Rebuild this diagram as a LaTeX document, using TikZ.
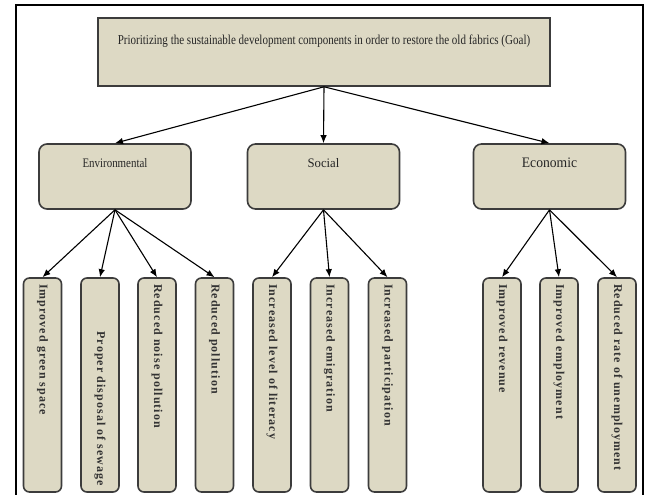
\documentclass[tikz,border=0pt]{standalone}
\usepackage{fontspec}
\setmainfont{Liberation Serif}
\newfontfamily\goalfont[FakeStretch=0.81]{Liberation Serif}
\newfontfamily\envfont[FakeStretch=0.84]{Liberation Serif}
\newfontfamily\socfont[FakeStretch=0.98]{Liberation Serif}
\newfontfamily\ecofont[FakeStretch=0.94]{Liberation Serif}
\newfontfamily\leaffont[LetterSpace=9,WordSpace=2.1]{Liberation Serif}
\usetikzlibrary{arrows.meta}
\definecolor{boxfill}{HTML}{DDD9C4}
\definecolor{boxline}{HTML}{3C3C3C}
\definecolor{leaftext}{HTML}{333333}
\definecolor{maintext}{HTML}{262626}
\begin{document}
\begin{tikzpicture}[x=1pt,y=-1pt,
  box/.style={draw=boxline, fill=boxfill, line width=1.6pt},
  goalbox/.style={box, minimum width=452pt, minimum height=68pt, text depth=24pt, text height=9pt, inner sep=0pt, text=maintext, font=\goalfont\fontsize{13.6}{15}\selectfont},
  midbox/.style={box, rounded corners=8pt, minimum width=152pt, minimum height=65pt, text depth=28pt, text height=9pt, inner sep=0pt, text=maintext},
  leaf/.style={box, rounded corners=6pt, rotate=-90, minimum width=214pt, minimum height=38pt, inner xsep=6pt, inner ysep=0pt, text width=202pt, align=left, font=\leaffont\bfseries\fontsize{12}{14}\selectfont, text=leaftext},
  arr/.style={-{Latex[length=8pt,width=6.5pt]}, line width=1.1pt, draw=black}]
\useasboundingbox (0,0) rectangle (645,495);
% frame
\draw[line width=2pt, black] (16,495) -- (16,5) -- (643,5) -- (643,495);
% goal
\node[goalbox] (goal) at (324,52) {Prioritizing the sustainable development components in order to restore the old fabrics (Goal)};
% components
\node[midbox, font=\envfont\fontsize{13}{15}\selectfont] (env) at (115,176.5) {Environmental};
\node[midbox, font=\socfont\fontsize{13}{15}\selectfont] (soc) at (323.5,176.5) {Social};
\node[midbox, font=\ecofont\fontsize{14.5}{16}\selectfont] (eco) at (549.5,176.5) {Economic};
% leaves
\node[leaf] (l1) at (42.5,385) {Improved green space};
\node[leaf, align=right] (l2) at (100,385) {Proper disposal of sewage};
\node[leaf] (l3) at (157,385) {Reduced noise pollution};
\node[leaf] (l4) at (214.5,385) {Reduced pollution};
\node[leaf] (l5) at (272,385) {Increased level of literacy};
\node[leaf] (l6) at (329.5,385) {Increased emigration};
\node[leaf] (l7) at (387.5,385) {Increased participation};
\node[leaf] (l8) at (502,385) {Improved revenue};
\node[leaf] (l9) at (559,385) {Improved employment};
\node[leaf] (l10) at (617,385) {Reduced rate of unemployment};
% connectors
\draw[arr] (goal.south) -- (env.north);
\draw[arr] (goal.south) -- (soc.north);
\draw[arr] (goal.south) -- (eco.north);
\foreach \t in {l1,l2,l3,l4} \draw[arr] (env.south) -- (\t.west);
\foreach \t in {l5,l6,l7} \draw[arr] (soc.south) -- (\t.west);
\foreach \t in {l8,l9,l10} \draw[arr] (eco.south) -- (\t.west);
\end{tikzpicture}
\end{document}
